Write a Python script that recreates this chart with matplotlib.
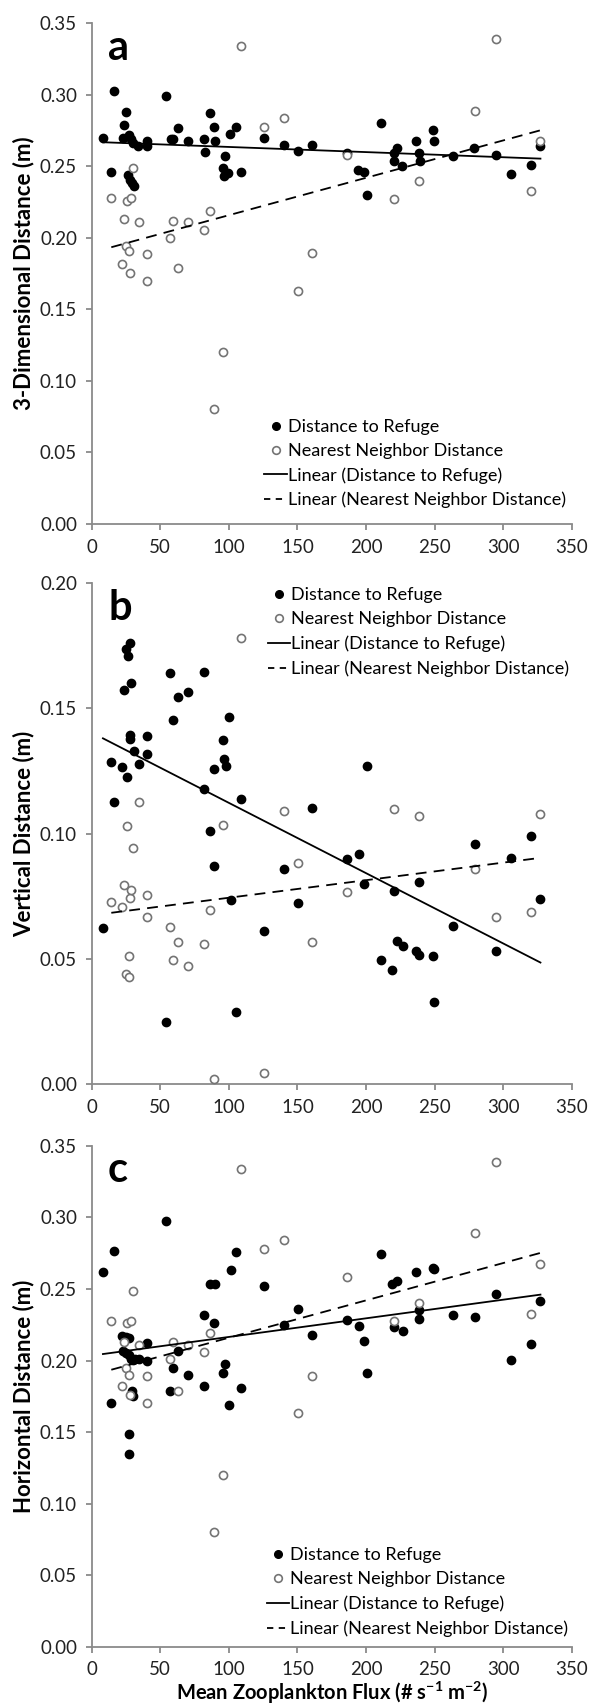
import numpy as np
import matplotlib
matplotlib.use('Agg')
import matplotlib.pyplot as plt
from matplotlib.lines import Line2D

plt.rcParams['font.family'] = ['Lato', 'DejaVu Sans']
plt.rcParams['mathtext.fontset'] = 'custom'
plt.rcParams['mathtext.rm'] = 'Lato'
plt.rcParams['mathtext.bf'] = 'Lato:bold'

## datos

# a - distancia 3D al refugio
ref3d_x = [8.2, 16.5, 14.3, 23.3, 25.3, 22.5, 27.5, 28.8, 30.2, 26.6, 28.0, 29.4, 30.5,
           34.0, 40.0, 40.6, 54.4, 57.6, 59.6, 63.0, 70.0, 81.8, 82.4, 86.5, 89.2, 89.8,
           97.5, 96.0, 96.6, 99.4, 100.7, 105.0, 109.0, 125.4, 140.5, 150.4, 160.6, 186.0,
           194.3, 198.5, 200.4, 210.8, 220.2, 222.3, 220.4, 226.5, 236.6, 238.8, 239.4,
           249.0, 249.8, 263.5, 279.0, 294.5, 306.0, 320.3, 327.2]
ref3d_y = [0.2695, 0.3025, 0.246, 0.279, 0.288, 0.270, 0.272, 0.269, 0.266, 0.244, 0.2405, 0.238, 0.236,
           0.264, 0.268, 0.2645, 0.299, 0.269, 0.269, 0.277, 0.2675, 0.269, 0.260, 0.2875, 0.2775, 0.2675,
           0.257, 0.249, 0.243, 0.245, 0.2725, 0.2775, 0.246, 0.270, 0.265, 0.261, 0.265, 0.259,
           0.2475, 0.246, 0.230, 0.2805, 0.259, 0.263, 0.254, 0.250, 0.268, 0.259, 0.254,
           0.275, 0.268, 0.257, 0.2625, 0.258, 0.2445, 0.251, 0.264]

# b - distancia vertical al refugio
refv_x = [8.2, 14.3, 16.5, 22.0, 23.3, 24.7, 26.6, 28.0, 26.0, 28.8, 28.3, 28.3, 30.7, 34.3,
          40.6, 40.6, 54.4, 57.1, 59.0, 63.0, 70.0, 81.8, 81.8, 86.5, 89.2, 89.2, 95.5, 96.6,
          98.0, 100.2, 101.3, 105.0, 109.0, 125.4, 140.5, 150.4, 160.6, 185.8, 194.9, 198.5,
          200.4, 210.8, 219.0, 220.2, 222.9, 227.0, 236.6, 238.8, 238.8, 249.0, 249.8, 263.5,
          279.2, 294.5, 306.0, 320.3, 327.2]
refv_y = [0.0624, 0.1286, 0.1125, 0.1265, 0.1575, 0.1736, 0.171, 0.176, 0.1225, 0.160, 0.1396, 0.1379, 0.1332, 0.128,
          0.139, 0.1318, 0.0247, 0.1643, 0.1453, 0.1546, 0.1565, 0.118, 0.1646, 0.101, 0.1258, 0.0869, 0.1375, 0.1297,
          0.1272, 0.1465, 0.0736, 0.0289, 0.1139, 0.0612, 0.0857, 0.0722, 0.1103, 0.090, 0.0917, 0.080,
          0.1272, 0.0497, 0.0457, 0.0772, 0.0572, 0.055, 0.0532, 0.0517, 0.0807, 0.051, 0.0329, 0.0633,
          0.0957, 0.0532, 0.0903, 0.099, 0.0739]

# c - distancia horizontal al refugio
refh_x = [8.2, 14.3, 16.5, 22.0, 24.7, 27.0, 22.5, 24.7, 27.5, 28.8, 30.2, 31.6, 29.4, 30.2,
          27.0, 27.5, 34.3, 40.0, 40.6, 54.4, 57.1, 59.0, 63.0, 70.0, 81.8, 81.8, 86.0, 89.8,
          89.2, 95.5, 97.5, 100.2, 101.6, 105.0, 109.0, 125.4, 140.5, 150.4, 160.6, 185.8,
          194.9, 198.5, 200.4, 210.8, 219.0, 222.9, 220.2, 227.0, 236.6, 238.8, 238.8, 249.0,
          249.8, 263.5, 279.2, 294.5, 306.0, 320.3, 327.2]
refh_y = [0.2621, 0.170, 0.2765, 0.217, 0.2164, 0.2158, 0.2066, 0.2053, 0.204, 0.2014, 0.2001, 0.2014, 0.179, 0.175,
          0.1486, 0.1347, 0.2014, 0.212, 0.200, 0.2977, 0.179, 0.195, 0.2067, 0.1897, 0.232, 0.1823, 0.2538, 0.2538,
          0.2263, 0.1915, 0.1975, 0.1687, 0.263, 0.276, 0.181, 0.252, 0.225, 0.236, 0.2177, 0.228,
          0.2242, 0.214, 0.1915, 0.2747, 0.2538, 0.2558, 0.2237, 0.2203, 0.2621, 0.2289, 0.2354, 0.265,
          0.2642, 0.232, 0.2302, 0.2464, 0.2006, 0.2119, 0.2415]

# vecino mas cercano (3D y horizontal se leen casi igual en a y c)
nn_x = [14.3, 23.3, 22.0, 24.7, 26.0, 27.5, 28.3, 28.8, 30.2, 34.3, 40.4, 40.6, 57.1, 59.0, 63.0,
        70.0, 81.8, 86.5, 89.2, 95.5, 109.0, 125.4, 140.5, 150.4, 160.6, 185.8, 220.2, 238.8,
        279.2, 294.5, 320.3, 327.2]
nn3d_y = [0.2275, 0.213, 0.182, 0.194, 0.2255, 0.1905, 0.1755, 0.2275, 0.249, 0.211, 0.189, 0.170, 0.200, 0.212, 0.179,
          0.211, 0.2055, 0.219, 0.0805, 0.120, 0.334, 0.2775, 0.284, 0.163, 0.1895, 0.258, 0.227, 0.2395,
          0.2888, 0.339, 0.2325, 0.268]
nnh_y = [0.2276, 0.2127, 0.182, 0.195, 0.2263, 0.190, 0.176, 0.2276, 0.2485, 0.211, 0.189, 0.170, 0.201, 0.2127, 0.179,
         0.211, 0.206, 0.219, 0.0803, 0.1198, 0.334, 0.278, 0.284, 0.163, 0.189, 0.2585, 0.2276, 0.240,
         0.289, 0.3388, 0.2328, 0.2676]

nnv_x = [14.3, 22.0, 23.3, 24.7, 26.0, 27.5, 27.5, 28.3, 28.8, 30.2, 34.3, 40.4, 40.6, 57.1, 59.0,
         63.0, 70.0, 81.8, 86.5, 89.2, 95.5, 109.0, 125.4, 140.5, 150.4, 160.6, 185.8, 220.2,
         238.8, 279.2, 294.5, 320.3, 327.2]
nnv_y = [0.0729, 0.0707, 0.0793, 0.0439, 0.1029, 0.0429, 0.051, 0.0743, 0.0776, 0.0943, 0.1125, 0.0755, 0.0667, 0.0626, 0.0497,
         0.0567, 0.0472, 0.056, 0.0697, 0.0019, 0.1036, 0.178, 0.0043, 0.109, 0.0882, 0.0567, 0.0767, 0.110,
         0.1072, 0.0857, 0.0667, 0.0686, 0.1079]

panel_letters = ['a', 'b', 'c']
y_titles = ['3-Dimensional Distance (m)', 'Vertical Distance (m)', 'Horizontal Distance (m)']
y_tops = [0.35, 0.20, 0.35]
x_title = r'Mean Zooplankton Flux (# s$^{\mathbf{-1}}$ m$^{\mathbf{-2}}$)'
leg_labels = ['Distance to Refuge', 'Nearest Neighbor Distance',
              'Linear (Distance to Refuge)', 'Linear (Nearest Neighbor Distance)']

ref_sets = [(ref3d_x, ref3d_y), (refv_x, refv_y), (refh_x, refh_y)]
nn_sets = [(nn_x, nn3d_y), (nnv_x, nnv_y), (nn_x, nnh_y)]

## figura
fig = plt.figure(figsize=(5.9, 17.05), dpi=100)
bottoms = [0.6927, 0.3642, 0.0342]
leg_pos = [(0.36, 0.1205), (0.367, 0.9025), (0.365, 0.109)]
gris = '#8a8a8a'
borde = '#747474'

def linea(ax, x, y, ls):
    "ajuste lineal tipo Excel entre el x minimo y el maximo"
    m, b = np.polyfit(x, y, 1)
    xl = np.array([min(x), max(x)])
    ax.plot(xl, m*xl + b, color='black', lw=1.3, ls=ls, zorder=4)

for k in range(3):
    ax = fig.add_axes([0.1554, bottoms[k], 0.8136, 0.2937])
    rx, ry = ref_sets[k]
    nx, ny = nn_sets[k]
    ax.scatter(rx, ry, s=36, color='black', zorder=2, clip_on=False)
    ax.scatter(nx, ny, s=34, facecolor='white', edgecolor=borde, linewidth=1.2, zorder=3, clip_on=False)
    linea(ax, rx, ry, '-')
    linea(ax, nx, ny, (0, (6, 4)))

    ax.set_xlim(0, 350)
    ax.set_ylim(0, y_tops[k])
    ax.set_xticks(np.arange(0, 351, 50))
    ax.set_yticks(np.arange(0, y_tops[k] + 0.001, 0.05))
    ax.yaxis.set_major_formatter(matplotlib.ticker.FormatStrFormatter('%.2f'))
    for s in ['top', 'right']:
        ax.spines[s].set_visible(False)
    for s in ['left', 'bottom']:
        ax.spines[s].set_color(gris)
        ax.spines[s].set_linewidth(1.3)
    ax.tick_params(direction='out', length=4.5, width=1.3, color=gris, labelsize=13.5,
                   labelcolor='#222222', pad=6)

    ax.set_ylabel(y_titles[k], fontsize=16, fontweight='bold')
    ax.yaxis.set_label_coords(-0.12, 0.5)
    ax.text(0.034, 0.927, panel_letters[k], transform=ax.transAxes, fontsize=30,
            fontweight='bold', va='baseline')

    handles = [Line2D([], [], ls='none', marker='o', ms=5.5, color='black'),
               Line2D([], [], ls='none', marker='o', ms=5.5, mfc='white', mec=borde, mew=1.2),
               Line2D([], [], color='black', lw=1.3),
               Line2D([], [], color='black', lw=1.3, ls=(0, (3.5, 3)))]
    ax.legend(handles, leg_labels, loc='center left', bbox_to_anchor=leg_pos[k], frameon=False,
              fontsize=13, handlelength=1.25, handletextpad=0.05, labelspacing=0.45,
              borderpad=0, borderaxespad=0)

    if k == 2:
        ax.set_xlabel(x_title, fontsize=14.5, fontweight='bold', va='top')
        ax.xaxis.set_label_coords(0.5, -0.066)

plt.savefig('out.png', dpi=100)
